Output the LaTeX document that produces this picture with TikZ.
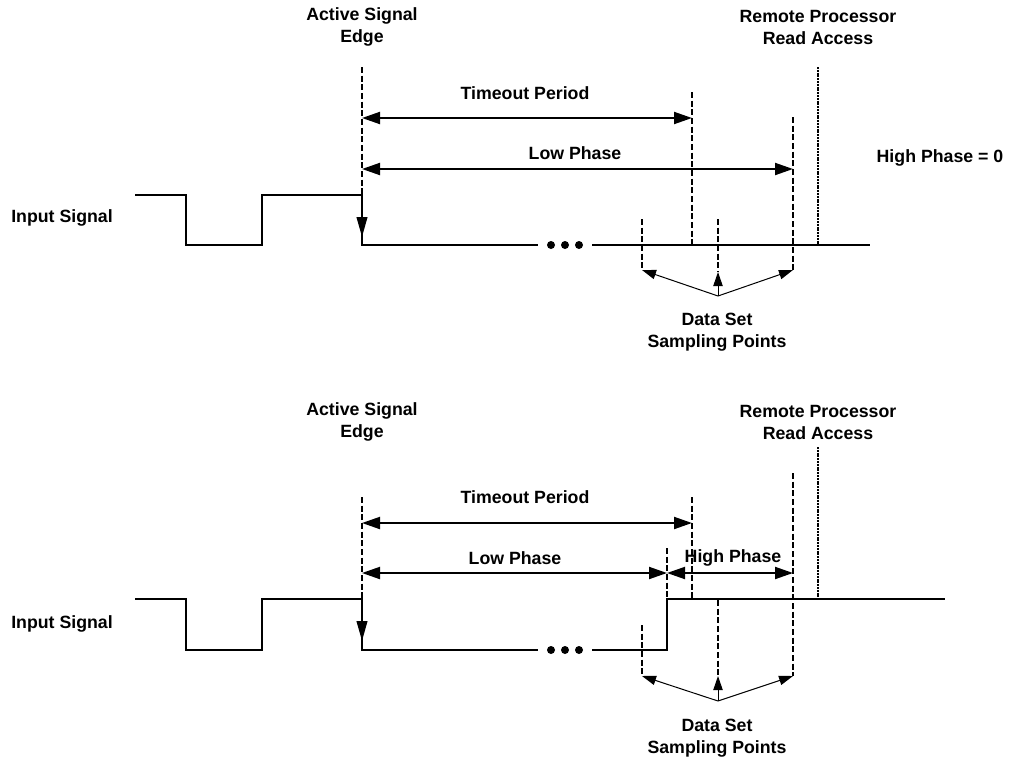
\documentclass[tikz,border=0pt]{standalone}
\usepackage{fontspec}
\setmainfont{Liberation Sans}
\usepackage{tikz}
\usetikzlibrary{arrows.meta, positioning}

\begin{document}
\begin{tikzpicture}[
  x=0.75pt, y=-0.75pt,
  lbl/.style={align=center, font=\fontsize{13.3}{16.5}\selectfont\bfseries},
  sig/.style={line width=1.5pt},
  guide/.style={line width=1.3pt, dash pattern=on 4.5pt off 2pt},
  readline/.style={line width=1.3pt, dash pattern=on 1.5pt off 0.6pt},
  span/.style={line width=1.5pt, {Triangle[length=13.5pt, width=9pt]}-{Triangle[length=13.5pt, width=9pt]}},
  edgetip/.style={line width=1.5pt, -{Triangle[length=15pt, width=8pt]}},
  pick/.style={line width=0.75pt, -{Triangle[length=10.5pt, width=7pt]}},
]
  \useasboundingbox (0,0) rectangle (1013,760);

  % ---- upper diagram: high phase = 0
  \node[lbl] (t-ase) at (362,27) {Active Signal\\Edge};
  \node[lbl] (t-rpa) at (818,27) {Remote Processor\\Read Access};
  \node[lbl] (t-to) at (525,93) {Timeout Period};
  \node[lbl] (t-lp) at (575,153) {Low Phase};
  \node[lbl] (t-hp) at (940,158) {High Phase = 0};
  \node[lbl] (t-in) at (62,218) {Input Signal};
  \node[lbl] (t-ds) at (717,332) {Data Set\\Sampling Points};

  \coordinate (t-start) at (135,195);
  \coordinate (t-fall) at (186,245);
  \coordinate (t-rise) at (262,195);
  \coordinate (t-edge) at (362,195);
  \coordinate (t-edgetip) at (362,237);
  \coordinate (t-edgelo) at (362,245);
  \coordinate (t-gapl) at (538,245);
  \coordinate (t-gapr) at (592,245);
  \coordinate (t-end) at (870,245);
  \draw[sig] (t-start) -| (t-fall) -| (t-rise) -| (t-edgelo) -- (t-gapl);
  \draw[sig] (t-gapr) -- (t-end);
  \draw[edgetip] (t-edge) -- (t-edgetip);
  \foreach \x in {551,565,579}
    \fill (\x,245) circle (3pt);

  \coordinate (t-g0a) at (362,67);
  \coordinate (t-g1a) at (692,92);
  \coordinate (t-g1b) at (692,245);
  \coordinate (t-g2a) at (793,117);
  \coordinate (t-g2b) at (793,270);
  \coordinate (t-ra) at (818,67);
  \coordinate (t-rb) at (818,245);
  \draw[guide] (t-g0a) -- (t-edge);
  \draw[guide] (t-g1a) -- (t-g1b);
  \draw[guide] (t-g2a) -- (t-g2b);
  \draw[readline] (t-ra) -- (t-rb);

  \coordinate (t-toL) at (362,118);
  \coordinate (t-toR) at (692,118);
  \coordinate (t-lpL) at (362,169);
  \coordinate (t-lpR) at (793,169);
  \draw[span] (t-toL) -- (t-toR);
  \draw[span] (t-lpL) -- (t-lpR);

  % sampling points
  \coordinate (t-s0a) at (642,219);
  \coordinate (t-s0b) at (642,270);
  \coordinate (t-s1a) at (718,219);
  \coordinate (t-s1b) at (718,272);
  \coordinate (t-apex) at (718,296);
  \draw[guide] (t-s0a) -- (t-s0b);
  \draw[guide] (t-s1a) -- (t-s1b);
  \draw[pick] (t-apex) -- (t-s0b);
  \draw[pick] (t-apex) -- (t-s1b);
  \draw[pick] (t-apex) -- (t-g2b);

  % ---- lower diagram: with high phase
  \node[lbl] (b-ase) at (362,422) {Active Signal\\Edge};
  \node[lbl] (b-rpa) at (818,422) {Remote Processor\\Read Access};
  \node[lbl] (b-to) at (525,497) {Timeout Period};
  \node[lbl] (b-lp) at (515,558) {Low Phase};
  \node[lbl] (b-hp) at (733,558) {High Phase};
  \node[lbl] (b-in) at (62,624) {Input Signal};
  \node[lbl] (b-ds) at (717,738) {Data Set\\Sampling Points};

  \coordinate (b-start) at (135,599);
  \coordinate (b-fall) at (186,650);
  \coordinate (b-rise) at (262,599);
  \coordinate (b-edge) at (362,599);
  \coordinate (b-edgetip) at (362,641);
  \coordinate (b-edgelo) at (362,650);
  \coordinate (b-gapl) at (538,650);
  \coordinate (b-gapr) at (592,650);
  \coordinate (b-hi) at (667,599);
  \coordinate (b-end) at (945,599);
  \draw[sig] (b-start) -| (b-fall) -| (b-rise) -| (b-edgelo) -- (b-gapl);
  \draw[sig] (b-gapr) -| (b-hi) -- (b-end);
  \draw[edgetip] (b-edge) -- (b-edgetip);
  \foreach \x in {551,565,579}
    \fill (\x,650) circle (3pt);

  \coordinate (b-g0a) at (362,497);
  \coordinate (b-g1a) at (692,497);
  \coordinate (b-g1b) at (692,599);
  \coordinate (b-g3a) at (667,548);
  \coordinate (b-g2a) at (793,473);
  \coordinate (b-g2b) at (793,676);
  \coordinate (b-ra) at (818,447);
  \coordinate (b-rb) at (818,599);
  \draw[guide] (b-g0a) -- (b-edge);
  \draw[guide] (b-g1a) -- (b-g1b);
  \draw[guide] (b-g3a) -- (b-hi);
  \draw[guide] (b-g2a) -- (b-g2b);
  \draw[readline] (b-ra) -- (b-rb);

  \coordinate (b-toL) at (362,523);
  \coordinate (b-toR) at (692,523);
  \coordinate (b-lpL) at (362,573);
  \coordinate (b-lpR) at (667,573);
  \coordinate (b-hpR) at (793,573);
  \draw[span] (b-toL) -- (b-toR);
  \draw[span] (b-lpL) -- (b-lpR);
  \draw[span] (b-lpR) -- (b-hpR);

  % sampling points
  \coordinate (b-s0a) at (642,625);
  \coordinate (b-s0b) at (642,676);
  \coordinate (b-s1a) at (718,600);
  \coordinate (b-s1b) at (718,676);
  \coordinate (b-apex) at (718,701);
  \draw[guide] (b-s0a) -- (b-s0b);
  \draw[guide] (b-s1a) -- (b-s1b);
  \draw[pick] (b-apex) -- (b-s0b);
  \draw[pick] (b-apex) -- (b-s1b);
  \draw[pick] (b-apex) -- (b-g2b);
\end{tikzpicture}
\end{document}
